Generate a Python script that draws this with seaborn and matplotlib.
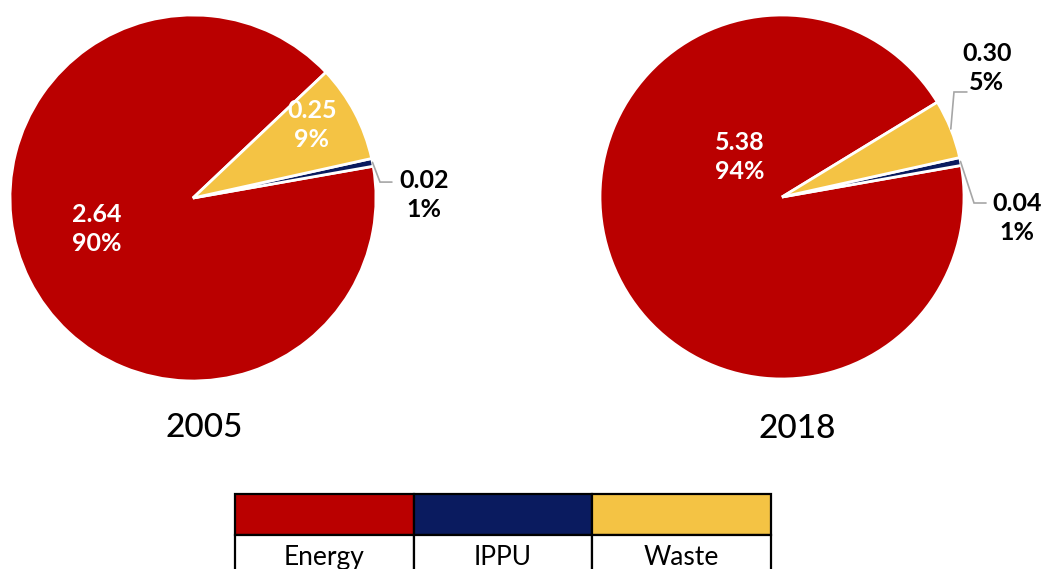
import matplotlib
matplotlib.use("Agg")
import matplotlib.pyplot as plt
from matplotlib.patches import Rectangle
import numpy as np
import seaborn as sns

# Emissions by sector (values and shares shown on the slices)
categories = ["Energy", "IPPU", "Waste"]
years = ["2005", "2018"]
values_2005 = [2.64, 0.02, 0.25]
values_2018 = [5.38, 0.04, 0.30]
shares_2005 = ["90%", "1%", "9%"]
shares_2018 = ["94%", "1%", "5%"]

sns.set_theme(style="white")
plt.rcParams["font.family"] = ["Lato", "DejaVu Sans"]
palette = sns.color_palette(["#BA0000", "#0A1B5F", "#F4C344"])

W, H = 1044, 569
fig = plt.figure(figsize=(W / 100, H / 100), dpi=100)

# overlay axes in pixel units for titles and the legend table
lax = fig.add_axes([0, 0, 1, 1])
lax.set_xlim(0, W)
lax.set_ylim(H, 0)
lax.axis("off")


def pie_axes(cx, cy, r):
    ax = fig.add_axes([(cx - r) / W, (H - cy - r) / H, 2 * r / W, 2 * r / H])
    return ax


# where each label sits (pie units) and an optional leader elbow
label_layout = {
    "2005": {
        "Energy": dict(pos=(-0.525, -0.17), color="white", leader=None),
        "Waste": dict(pos=(0.650, 0.40), color="white", leader=None),
        "IPPU": dict(pos=(1.262, 0.015), color="black",
                     leader=((1.022, 0.087), (1.087, 0.087))),
    },
    "2018": {
        "Energy": dict(pos=(-0.231, 0.22), color="white", leader=None),
        "Waste": dict(pos=(1.126, 0.71), color="black",
                      leader=((0.945, 0.577), (1.016, 0.577))),
        "IPPU": dict(pos=(1.291, -0.115), color="black",
                     leader=((1.055, -0.033), (1.121, -0.033))),
    },
}

pie_frames = {"2005": (193, 198, 183), "2018": (782, 197, 182)}
title_pos = {"2005": (204, 437), "2018": (797, 438)}
series = {"2005": (values_2005, shares_2005), "2018": (values_2018, shares_2018)}

energy_end = 10.0  # angle (deg) where the Energy slice closes

for year in years:
    vals, shares = series[year]
    cx, cy, r = pie_frames[year]
    ax = pie_axes(cx, cy, r)
    total = float(np.sum(vals))
    start = energy_end + (vals[1] + vals[2]) / total * 360.0
    wedges, _ = ax.pie(
        vals,
        colors=palette,
        startangle=start,
        counterclock=True,
        radius=1.0,
        wedgeprops=dict(edgecolor="white", linewidth=2.0),
    )
    ax.set_xlim(-1, 1)
    ax.set_ylim(-1, 1)
    ax.set_aspect("auto")
    ax.axis("off")

    for w, cat, v, s in zip(wedges, categories, vals, shares):
        lay = label_layout[year][cat]
        x, y = lay["pos"]
        ax.text(x, y, f"{v:.2f}\n{s}", ha="center", va="center",
                fontsize=18, fontweight="bold", color=lay["color"],
                linespacing=1.3, clip_on=False)
        if lay["leader"] is not None:
            mid = np.deg2rad((w.theta1 + w.theta2) / 2)
            (ex, ey), (tx, ty) = lay["leader"]
            ax.plot([np.cos(mid), ex, tx], [np.sin(mid), ey, ty],
                    color="#A6A6A6", lw=1.2, clip_on=False,
                    solid_joinstyle="miter")

    tx, ty = title_pos[year]
    lax.text(tx, ty, year, ha="center", va="baseline", fontsize=24,
             fontweight="medium", color="black")

# legend table: colour swatches over category names
x0, cell_w = 235, (771 - 235) / 3
top, mid_y = 494, 535
for i, (cat, col) in enumerate(zip(categories, palette)):
    xl = x0 + i * cell_w
    lax.add_patch(Rectangle((xl, top), cell_w, mid_y - top, facecolor=col,
                            edgecolor="black", lw=1.6))
    lax.add_patch(Rectangle((xl, mid_y), cell_w, 50, facecolor="white",
                            edgecolor="black", lw=1.6))
    lax.text(xl + cell_w / 2, 565, cat, ha="center", va="baseline",
             fontsize=19, color="black")

fig.savefig("out.png", dpi=100)
